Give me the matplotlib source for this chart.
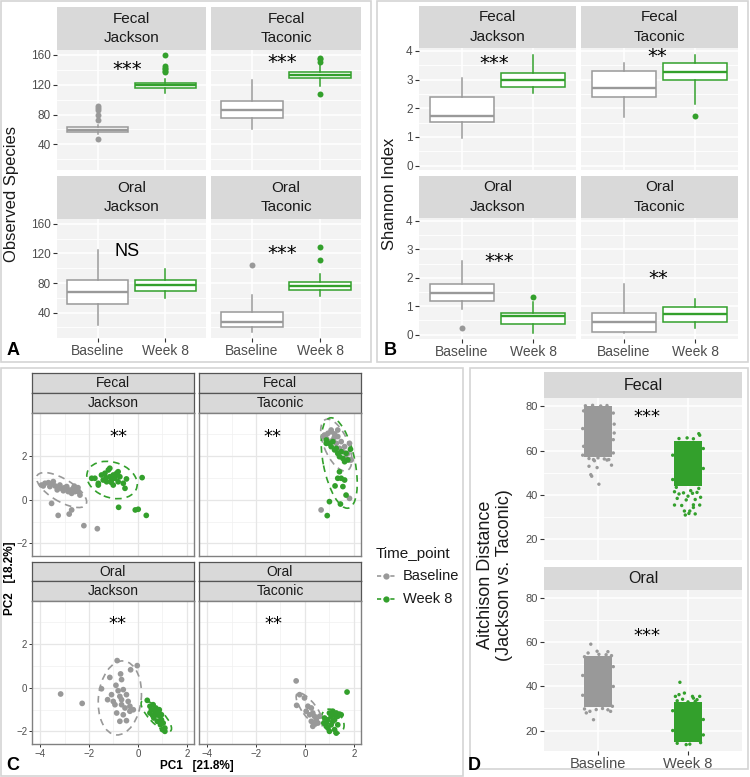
import numpy as np
import matplotlib.pyplot as plt
from matplotlib.patches import Ellipse, Rectangle
from matplotlib.lines import Line2D

plt.rcParams['font.family'] = ['Liberation Sans', 'DejaVu Sans']

# Data ............................................................................................

groups = ['Baseline', 'Week 8']
strip_ab = ['Fecal\nJackson', 'Fecal\nTaconic', 'Oral\nJackson', 'Oral\nTaconic']

# Observed species: box stats per facet [whislo, q1, med, q3, whishi]
obs_base = [[53.8, 56.1, 59.6, 62.8, 66.4], [60.1, 75.0, 86.1, 97.8, 126.8],
            [23.4, 51.2, 67.7, 84.3, 124.2], [13.5, 19.8, 27.3, 41.3, 64.2]]
obs_week8 = [[109.0, 115.7, 119.3, 122.8, 128.2], [118.8, 128.7, 133.1, 137.6, 147.0],
             [59.2, 69.0, 77.6, 84.7, 99.1], [62.3, 70.9, 76.3, 81.7, 91.9]]
obs_out_base = [[91.5, 88.8, 86.1, 79.0, 73.1, 47.1], [], [], [104.5]]
obs_out_week8 = [[159.6, 145, 143, 141, 139, 137], [156, 154, 150, 108], [], [128.7, 111.6]]
obs_sig = ['***', '***', 'NS', '***']
obs_sig_x = [1.44, 1.45, 1.43, 1.45]
obs_sig_y = [143.5, 152.4, 122.8, 122.4]

# Shannon index
sha_base = [[0.95, 1.51, 1.74, 2.39, 3.07], [1.70, 2.41, 2.70, 3.29, 3.58],
            [0.89, 1.20, 1.48, 1.77, 2.59], [0.06, 0.10, 0.46, 0.77, 1.79]]
sha_week8 = [[2.52, 2.74, 2.98, 3.22, 3.87], [2.16, 2.98, 3.26, 3.58, 3.84],
             [0.06, 0.39, 0.67, 0.75, 1.16], [0.23, 0.43, 0.73, 0.97, 1.25]]
sha_out_base = [[], [], [0.24], []]
sha_out_week8 = [[], [1.74], [1.32], []]
sha_sig = ['***', '**', '***', '**']
sha_sig_x = [1.45, 1.47, 1.53, 1.48]
sha_sig_y = [3.64, 3.88, 2.65, 2.05]

# PCA scores (PC1, PC2)
fj_base = np.array([(-3.94, 0.67), (-3.87, 0.63), (-3.80, 0.75), (-3.66, 0.78), (-3.60, 0.60), (-3.53, 0.72),
                    (-3.46, 0.83), (-3.39, 0.63), (-3.26, 0.57), (-3.19, 0.67), (-3.12, 0.52), (-3.05, 0.41),
                    (-2.98, 0.47), (-2.91, 0.60), (-2.85, 0.37), (-2.78, 0.44), (-2.71, 0.29), (-2.64, 0.52),
                    (-2.57, 0.37), (-2.51, 0.47), (-2.44, 0.37), (-2.37, 0.21), (-3.53, -0.17), (-3.26, -0.72),
                    (-2.81, -0.66), (-2.71, -0.47), (-2.21, -1.19), (-1.66, -1.33), (-3.00, 0.55), (-2.60, 0.62),
                    (-3.30, 0.45), (-2.45, 0.55)])
fj_week8 = np.array([(-1.89, 0.98), (-1.76, 0.98), (-1.62, 0.75), (-1.49, 1.13), (-1.35, 1.21), (-1.21, 1.36),
                     (-1.15, 1.05), (-1.08, 0.90), (-1.01, 1.13), (-0.94, 0.98), (-0.87, 1.21), (-0.81, 0.82),
                     (-0.74, 1.05), (-0.60, 0.75), (-0.53, 0.52), (-0.47, 0.95), (-1.62, 0.67), (-1.28, 0.82),
                     (-1.15, 1.44), (-0.81, 1.28), (-1.42, 0.90), (-1.01, 0.67), (0.17, 1.01), (-0.79, -0.35),
                     (-0.11, -0.47), (0.01, -0.44), (0.34, -0.72), (-1.30, 1.00), (-0.95, 1.10), (-1.10, 0.80)])
ft_base = np.array([(0.80, 2.96), (0.94, 3.04), (1.07, 3.12), (1.21, 3.01), (1.34, 2.89), (1.48, 2.66),
                    (1.62, 2.43), (1.75, 2.12), (1.82, 1.82), (0.87, 2.81), (1.00, 2.66), (1.14, 2.73),
                    (1.28, 2.58), (1.41, 2.35), (1.55, 2.20), (1.68, 1.89), (1.82, 2.58), (1.89, 1.82),
                    (1.82, 0.06), (0.66, -0.47), (1.07, 3.19), (1.34, 3.19), (0.75, 2.90), (1.20, 2.85)])
ft_week8 = np.array([(0.87, 2.73), (1.00, 2.58), (1.14, 2.66), (1.07, 2.43), (1.21, 2.28), (1.28, 2.35),
                     (1.34, 2.12), (1.41, 1.97), (1.48, 2.20), (1.55, 1.89), (1.62, 1.74), (1.68, 2.12),
                     (1.75, 1.82), (1.86, 2.31), (1.41, 1.28), (1.34, 0.98), (1.48, 0.98), (1.62, 0.90),
                     (1.55, 0.60), (1.23, 0.63), (1.68, 0.21), (1.00, -0.09), (1.45, -0.20), (0.91, -0.73),
                     (0.87, 2.58)])
oj_base = np.array([(-3.16, -0.29), (-2.28, -0.72), (-1.49, -0.05), (-1.15, 0.47), (-0.85, 1.24), (-0.71, 0.63),
                    (-0.67, 0.37), (-0.30, 0.82), (-0.03, 1.01), (-0.90, 0.11), (-0.81, -0.14), (-0.60, -0.09),
                    (-0.47, -0.32), (-0.74, -0.40), (-1.01, -0.63), (-0.67, -0.78), (-0.53, -0.93), (-0.33, -1.08),
                    (-0.87, -1.16), (-0.60, -1.24), (-0.47, -1.51), (-0.74, -1.54), (-1.24, -0.55), (-1.08, -0.32),
                    (-0.94, -0.78), (-0.40, -0.63), (-0.33, -0.85), (-0.19, -1.01), (-0.67, -0.55)])
oj_week8 = np.array([(0.38, -0.58), (0.49, -0.85), (0.55, -1.01), (0.62, -0.78), (0.69, -1.08), (0.76, -1.24),
                     (0.83, -1.16), (0.89, -1.31), (0.96, -1.47), (1.03, -1.62), (1.10, -1.85), (1.10, -2.00),
                     (0.65, -1.39), (0.79, -1.54), (0.92, -1.70), (1.00, -1.92), (0.49, -1.16), (0.60, -1.27),
                     (0.73, -0.93), (0.87, -1.01), (0.96, -1.24)])
ot_base = np.array([(-0.36, 0.31), (-0.22, -0.32), (-0.34, -0.81), (-0.02, -0.47), (0.12, -0.85), (0.26, -0.93),
                    (0.32, -1.16), (0.39, -1.31), (0.46, -1.47), (0.19, -1.24), (0.26, -1.54), (0.32, -1.77),
                    (0.42, -1.66), (0.53, -1.62), (0.05, -1.08), (0.60, -1.31)])
ot_week8 = np.array([(1.72, -0.20), (0.80, -1.39), (0.87, -1.62), (0.94, -1.85), (1.00, -1.16), (1.07, -1.31),
                     (1.14, -1.08), (1.21, -1.24), (1.28, -1.16), (1.34, -1.31), (1.41, -1.21), (1.48, -1.24),
                     (1.07, -1.70), (1.21, -1.92), (1.28, -2.08), (1.14, -1.54), (1.00, -2.00), (0.87, -1.77),
                     (1.34, -1.70), (0.77, -1.62), (0.94, -1.47), (1.21, -1.47)])
pca_base = [fj_base, ft_base, oj_base, ot_base]
pca_week8 = [fj_week8, ft_week8, oj_week8, ot_week8]
# ellipses per facet: centre x, centre y, full width, full height, angle
ell_base = [[-3.12, 0.44, 2.4, 1.0, -35], [1.28, 2.50, 2.5, 1.0, -70],
            [-0.74, -0.47, 3.4, 1.75, 85], [0.19, -1.01, 1.8, 0.6, -57]]
ell_week8 = [[-1.06, 0.90, 2.15, 1.6, -25], [1.40, 1.68, 4.2, 1.3, -80],
             [0.75, -1.30, 1.8, 0.6, -50], [1.14, -1.54, 1.2, 0.8, -60]]
pca_sig_x = [-0.81, -1.31, -0.82, -1.28]
pca_sig_y = [2.96, 2.96, 3.02, 3.00]

# Aitchison distance: dense core range [lo, hi] and scattered points (jitter offset, value)
ait_core = {'Fecal': [(57.2, 80.0), (44.0, 64.5)], 'Oral': [(30.5, 54.0), (15.0, 33.0)]}
ait_pts = {
    'Fecal': [
        [(-0.10, 56.5), (-0.05, 56.0), (0.0, 56.8), (0.07, 56.3), (0.12, 56.0), (-0.04, 55.5), (0.10, 55.8),
         (-0.10, 53.0), (0.15, 53.5), (-0.01, 52.4), (-0.08, 49.2), (-0.07, 48.5), (0.01, 44.9), (-0.14, 80.3),
         (-0.06, 80.5), (0.03, 80.2), (0.10, 80.4), (-0.16, 78.0), (0.17, 77.0), (-0.16, 62.0), (0.17, 65.0),
         (0.17, 59.0), (-0.17, 70.0), (0.18, 72.0), (-0.17, 58.0), (0.18, 68.0)],
        [(-0.15, 41.5), (-0.10, 40.5), (-0.05, 41.0), (0.0, 39.5), (0.05, 40.8), (0.10, 41.2), (0.14, 39.0),
         (-0.12, 38.5), (-0.02, 37.8), (0.08, 38.0), (0.03, 42.0), (-0.15, 35.5), (-0.07, 35.3), (0.06, 35.6),
         (0.13, 35.5), (0.06, 34.4), (-0.04, 32.8), (0.02, 32.8), (0.01, 31.7), (0.08, 31.5), (-0.03, 31.0),
         (0.12, 67.7), (0.13, 67.0), (-0.10, 65.5), (-0.01, 65.8), (0.06, 65.4), (-0.13, 43.5), (0.12, 43.0),
         (-0.17, 47.0), (0.17, 52.0), (-0.17, 58.0), (0.17, 61.0)]],
    'Oral': [
        [(-0.08, 59.2), (-0.01, 56.0), (0.11, 55.8), (-0.11, 55.2), (0.01, 54.6), (0.09, 54.4), (0.15, 54.0),
         (-0.15, 53.5), (-0.15, 29.8), (0.11, 29.4), (-0.09, 28.7), (0.14, 28.7), (-0.13, 28.0), (-0.05, 24.9),
         (0.05, 30.0), (0.16, 31.0), (-0.02, 29.5), (-0.17, 45.0), (0.17, 40.0), (-0.17, 36.0), (0.17, 49.0)],
        [(-0.09, 41.9), (-0.04, 37.0), (-0.10, 36.3), (-0.14, 35.5), (0.05, 35.5), (0.13, 35.5), (0.06, 34.7),
         (0.10, 34.0), (-0.12, 33.5), (0.0, 33.0), (-0.02, 13.6), (0.02, 13.8), (-0.12, 14.2), (0.14, 14.5),
         (0.08, 33.2), (-0.06, 34.2), (-0.17, 20.0), (0.17, 25.0), (-0.17, 29.0), (0.17, 18.0)]]}
ait_sig_y = {'Fecal': 76.3, 'Oral': 64.0}


# Figure helpers ..................................................................................

W, H = 750, 777
GREY = '#999999'
GREEN = '#33A02C'
COLS = [GREY, GREEN]
STAR = ['DejaVu Sans']

fig = plt.figure(figsize=(W / 100, H / 100), dpi=100)

def px_axes(x0, y0, x1, y1):
    return fig.add_axes([x0 / W, 1 - y1 / H, (x1 - x0) / W, (y1 - y0) / H])

def frame(x0, y0, x1, y1):
    fig.add_artist(Rectangle((x0 / W, 1 - y1 / H), (x1 - x0) / W, (y1 - y0) / H, transform=fig.transFigure,
                             fill=False, ec='#D4D4D4', lw=1.2))

def strip(x0, y0, x1, y1, text, size, edge=None):
    ax = px_axes(x0, y0, x1, y1)
    ax.set_facecolor('#D9D9D9')
    ax.set_xticks([])
    ax.set_yticks([])
    for s in ax.spines.values():
        if edge:
            s.set_color(edge)
            s.set_linewidth(0.9)
        else:
            s.set_visible(False)
    ax.text(0.5, 0.5, text, ha='center', va='center', fontsize=size, color='#1A1A1A',
            linespacing=1.5, transform=ax.transAxes)

def sig_text(ax, x, y, label, size):
    # asterisks drawn in DejaVu (larger glyph), plain labels in the base font
    if '*' in label:
        ax.text(x, y, label, ha='center', va='center_baseline', fontsize=size, family=STAR, color='black')
    else:
        ax.text(x, y, label, ha='center', va='center', fontsize=size - 1, color='black')

def gray_panel(ax, ylim, yticks, yminor, xlim=(0.4, 2.6), xticks=(1, 2)):
    ax.set_facecolor('#F3F3F3')
    ax.set_xlim(*xlim)
    ax.set_ylim(*ylim)
    for v in yminor:
        ax.axhline(v, color='white', lw=0.6, zorder=0)
    for v in yticks:
        ax.axhline(v, color='white', lw=1.2, zorder=0)
    for v in xticks:
        ax.axvline(v, color='white', lw=1.2, zorder=0)
    ax.set_yticks(yticks)
    ax.set_xticks(xticks)
    for s in ax.spines.values():
        s.set_visible(False)
    ax.tick_params(length=3, width=0.8, color='#333333', labelcolor='#4D4D4D', pad=1.5)

def boxes(ax, base, week8, out_b, out_w):
    for pos, st, out, col in [(1, base, out_b, GREY), (2, week8, out_w, GREEN)]:
        stats = [dict(whislo=st[0], q1=st[1], med=st[2], q3=st[3], whishi=st[4], fliers=out)]
        ax.bxp(stats, positions=[pos], widths=0.9, showcaps=False, patch_artist=True, manage_ticks=False,
               boxprops=dict(facecolor='white', edgecolor=col, lw=1.1),
               medianprops=dict(color=col, lw=1.7),
               whiskerprops=dict(color=col, lw=1.1),
               flierprops=dict(marker='o', markerfacecolor=col, markeredgecolor='none', markersize=4.3))


# Panel A and B: boxplots .........................................................................

def box_panel(xs, ys, base, week8, out_b, out_w, sig, sig_x, sig_y, ylim, yticks, yminor, ylabel, lab_x, letter):
    for i in range(4):
        r, c = divmod(i, 2)
        x0, x1 = xs[c]
        sy0, sy1, py1 = ys[r]
        strip(x0, sy0, x1, sy1, strip_ab[i], 11)
        ax = px_axes(x0, sy1, x1, py1)
        gray_panel(ax, ylim, yticks, yminor)
        boxes(ax, base[i], week8[i], out_b[i], out_w[i])
        sig_text(ax, sig_x[i], sig_y[i], sig[i], 14)
        ax.tick_params(axis='y', labelsize=8.5)
        if c == 1:
            ax.tick_params(axis='y', length=0, labelleft=False)
        if r == 0:
            ax.tick_params(axis='x', length=0, labelbottom=False)
        else:
            ax.set_xticklabels(groups, fontsize=10)
    fig.text(lab_x / W, 1 - 194 / H, ylabel, rotation=90, ha='center', va='center', fontsize=12, color='#1A1A1A')
    fig.text((lab_x + 1) / W, 1 - 350 / H, letter, ha='center', va='center', fontsize=13, fontweight='bold')

frame(1, 1, 371, 362)
frame(377, 1, 748, 362)
box_panel([(57, 206), (211, 361)], [(7, 50, 170), (176, 219, 338)], obs_base, obs_week8, obs_out_base,
          obs_out_week8, obs_sig, obs_sig_x, obs_sig_y, (5.5, 166.7), [40, 80, 120, 160], [20, 60, 100, 140],
          'Observed Species', 12, 'A')
box_panel([(419, 576), (581, 738)], [(6, 48, 170), (176, 218, 339)], sha_base, sha_week8, sha_out_base,
          sha_out_week8, sha_sig, sha_sig_x, sha_sig_y, (-0.15, 4.1), [0, 1, 2, 3, 4], [0.5, 1.5, 2.5, 3.5],
          'Shannon Index', 389, 'B')


# Panel C: PCA ....................................................................................

frame(1, 368, 463, 776)
xs_c = [(32, 194), (199, 361)]
ys_c = [(373, 393, 413, 556), (562, 581, 601, 744)]
for i in range(4):
    r, c = divmod(i, 2)
    x0, x1 = xs_c[c]
    s0, s1, s2, p1 = ys_c[r]
    site, vendor = strip_ab[i].split('\n')
    strip(x0, s0, x1, s1, site, 10, edge='#555555')
    strip(x0, s1, x1, s2, vendor, 10, edge='#555555')
    ax = px_axes(x0, s2, x1, p1)
    ax.set_xlim(-4.33, 2.29)
    ax.set_ylim(-2.58, 3.97)
    for v in [-3, -1, 1]:
        ax.axvline(v, color='#F0F0F0', lw=0.5, zorder=0)
    for v in [-1, 1, 3]:
        ax.axhline(v, color='#F0F0F0', lw=0.5, zorder=0)
    for v in [-4, -2, 0, 2]:
        ax.axvline(v, color='#E6E6E6', lw=0.9, zorder=0)
    for v in [-2, 0, 2]:
        ax.axhline(v, color='#E6E6E6', lw=0.9, zorder=0)
    ax.set_xticks([-4, -2, 0, 2])
    ax.set_yticks([-2, 0, 2])
    for s in ax.spines.values():
        s.set_color('#808080')
        s.set_linewidth(1.0)
    ax.tick_params(length=2.5, width=0.7, color='#333333', labelcolor='#4D4D4D', labelsize=7, pad=1)
    if c == 1:
        ax.tick_params(axis='y', length=0, labelleft=False)
    if r == 0:
        ax.tick_params(axis='x', length=0, labelbottom=False)
    for pts, ell, col in [(pca_base[i], ell_base[i], GREY), (pca_week8[i], ell_week8[i], GREEN)]:
        ax.scatter(pts[:, 0], pts[:, 1], s=17, color=col, edgecolors='none', zorder=3)
        ax.add_patch(Ellipse((ell[0], ell[1]), ell[2], ell[3], angle=ell[4], fill=False, ec=col,
                             lw=1.2, ls=(0, (4, 3)), zorder=2))
    sig_text(ax, pca_sig_x[i], pca_sig_y[i], '**', 13)

fig.text(10 / W, 1 - 578 / H, 'PC2   [18.2%]', rotation=90, ha='center', va='center', fontsize=8.5, fontweight='bold')
fig.text(197 / W, 1 - 766 / H, 'PC1   [21.8%]', ha='center', va='center', fontsize=8.5, fontweight='bold')
fig.text(13 / W, 1 - 765 / H, 'C', ha='center', va='center', fontsize=13, fontweight='bold')

# legend
fig.text(376 / W, 1 - 554 / H, 'Time_point', ha='left', va='center', fontsize=11, color='#1A1A1A')
for k, (g, col) in enumerate(zip(groups, COLS)):
    yk = 1 - (576 + 23 * k) / H
    fig.add_artist(Line2D([377 / W, 395 / W], [yk, yk], transform=fig.transFigure, color=col, lw=1.2,
                          ls=(0, (2.5, 1.5))))
    fig.add_artist(Line2D([386 / W], [yk], transform=fig.transFigure, color=col, marker='o', markersize=4.5,
                          markeredgecolor='none'))
    fig.text(403 / W, yk, g, ha='left', va='center', fontsize=10.5, color='#1A1A1A')


# Panel D: Aitchison distance .....................................................................

frame(470, 368, 748, 769)
ys_d = [(372, 398, 560), (567, 590, 751)]
for r, site in enumerate(['Fecal', 'Oral']):
    s0, s1, p1 = ys_d[r]
    strip(544, s0, 742, s1, site, 11.5)
    ax = px_axes(544, s1, 742, p1)
    gray_panel(ax, (10.7, 83.8), [20, 40, 60, 80], [30, 50, 70])
    for k, col in enumerate(COLS):
        lo, hi = ait_core[site][k]
        ax.fill_between([k + 1 - 0.16, k + 1 + 0.16], lo, hi, color=col, lw=0, zorder=2)
        pts = np.array(ait_pts[site][k])
        ax.scatter(k + 1 + pts[:, 0], pts[:, 1], s=6, color=col, edgecolors='none', zorder=3)
    sig_text(ax, 1.54, ait_sig_y[site], '***', 13)
    ax.tick_params(axis='y', labelsize=8)
    if r == 0:
        ax.tick_params(axis='x', length=0, labelbottom=False)
    else:
        ax.set_xticklabels(groups, fontsize=10.5)

fig.text(495 / W, 1 - 575 / H, 'Aitchison Distance\n(Jackson vs. Taconic)', rotation=90, ha='center',
         va='center', fontsize=13, color='#1A1A1A', linespacing=1.1)
fig.text(474 / W, 1 - 765 / H, 'D', ha='center', va='center', fontsize=13, fontweight='bold')

fig.savefig('out.png', dpi=100)
